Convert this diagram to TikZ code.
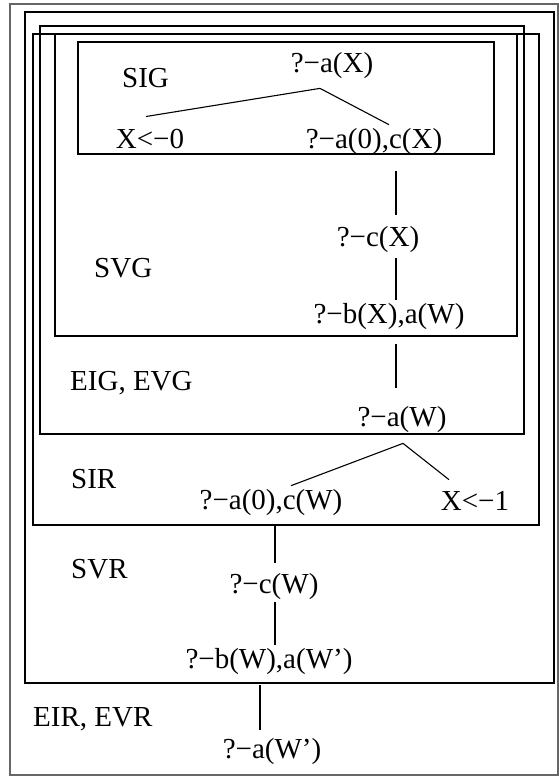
\documentclass[tikz,border=0pt]{standalone}
\usepackage{fontspec}
\setmainfont{Liberation Serif}
\newcommand{\treefont}{\fontsize{29}{33}\selectfont}
\tikzset{
  region/.style={line width=1.5pt},
  outerregion/.style={draw=black!60, line width=2pt},
  goal/.style={font=\treefont, anchor=base, inner sep=3pt},
  tag/.style={font=\treefont, anchor=base west, inner sep=0pt},
  link/.style={line width=1.1pt}
}

\begin{document}
\begin{tikzpicture}[x=1pt,y=-1pt]
  \useasboundingbox (0,0) rectangle (559,776);
  % draw nested region boxes
  \draw[outerregion] (10,4) rectangle (558,775);
  \draw[region] (25,12) rectangle (554,683);
  \draw[region] (33,34) rectangle (539,525);
  \draw[region] (40,26) rectangle (524,434);
  \draw[region] (55,34) rectangle (517,336);
  \draw[region] (78,42) rectangle (494,154);
  % region tags
  \node[tag] (sig) at (122,87) {SIG};
  \node[tag] (svg) at (94,277) {SVG};
  \node[tag] (eig) at (70,390) {EIG, EVG};
  \node[tag] (sir) at (71,488) {SIR};
  \node[tag] (svr) at (71,578) {SVR};
  \node[tag] (eir) at (33,726) {EIR, EVR};
  % goals
  \node[goal] (aX) at (332,73) {?−a(X)};
  \node[goal] (x0) at (150,148) {X<−0};
  \node[goal] (a0cX) at (374,148) {?−a(0),c(X)};
  \node[goal] (cX) at (378,246) {?−c(X)};
  \node[goal] (bXaW) at (389,323) {?−b(X),a(W)};
  \node[goal] (aW) at (402,426) {?−a(W)};
  \node[goal] (a0cW) at (271,509) {?−a(0),c(W)};
  \node[goal] (x1) at (475,510) {X<−1};
  \node[goal] (cW) at (274,593) {?−c(W)};
  \node[goal] (bWaW) at (269,668) {?−b(W),a(W’)};
  \node[goal] (aWp) at (272,758) {?−a(W’)};
  % first tree
  \draw[link] ([xshift=-4pt,yshift=9pt]x0.north) -- ([xshift=-12pt,yshift=-6pt]aX.south)
    -- ([xshift=15pt]a0cX.north);
  \draw[link] ([xshift=22pt,yshift=-14pt]a0cX.south) -- ([xshift=18pt,yshift=8pt]cX.north);
  \draw[link] ([xshift=18pt,yshift=-3pt]cX.south) -- ([xshift=7pt]bXaW.north);
  \draw[link] ([xshift=7pt,yshift=-12pt]bXaW.south) -- ([xshift=-6pt,yshift=15pt]aW.north);
  % second tree
  \draw[link] ([xshift=20pt]a0cW.north) -- ([xshift=1pt,yshift=-8pt]aW.south)
    -- ([xshift=-26pt,yshift=8pt]x1.north);
  \draw[link] ([xshift=4pt,yshift=-8pt]a0cW.south) -- ([xshift=1pt,yshift=7pt]cW.north);
  \draw[link] ([xshift=1pt]cW.south) -- ([xshift=6pt]bWaW.north);
  \draw[link] ([xshift=-9pt,yshift=-8pt]bWaW.south) -- ([xshift=-12pt,yshift=5pt]aWp.north);
\end{tikzpicture}
\end{document}
